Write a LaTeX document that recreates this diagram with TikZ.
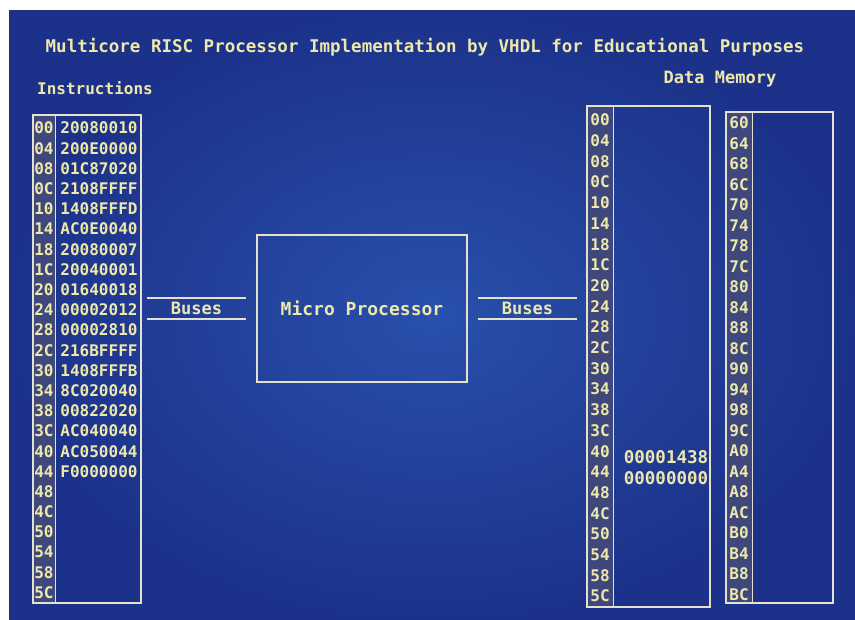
\documentclass[tikz,border=0pt]{standalone}
\usepackage{fontspec}
\setmonofont{DejaVu Sans Mono}
\usetikzlibrary{positioning}
\definecolor{scrbg}{RGB}{40,80,172}
\definecolor{scredge}{RGB}{28,50,138}
\definecolor{crt}{RGB}{238,232,170}
\definecolor{crtline}{RGB}{228,226,206}
\definecolor{addrbg}{RGB}{62,72,124}

\begin{document}
\begin{tikzpicture}[x=1pt,y=-1pt,
  font=\ttfamily\bfseries,
  crt/.style={text=crt,inner sep=0pt},
  fs/.style={font=\ttfamily\bfseries\fontsize{#1}{#1}\selectfont},
  panel/.style={draw=crtline,line width=1.5pt},
  addrcol/.style={draw=crtline,line width=1.2pt,fill=addrbg,anchor=north west},
  addr/.style={crt,fs=16},
  word/.style={crt,fs=16},
  bus/.style={crt,fs=17,minimum width=99pt,minimum height=21pt},
  busline/.style={draw=crtline,line width=1.5pt}
]
\useasboundingbox (0,0) rectangle (855,620);
\fill[white] (0,0) rectangle (855,620);
\shade[inner color=scrbg,outer color=scredge] (9,11) rectangle (855,620);

\node[crt,fs=17.5] (title) at (425,47) {Multicore RISC Processor Implementation by VHDL for Educational Purposes};
\node[crt,fs=16] (instrlbl) at (95,88) {Instructions};
\node[crt,fs=17] (memlbl) at (720,79) {Data Memory};

% instruction memory
\node[addrcol,minimum width=22pt,minimum height=488pt] (instra) at (33,115) {};
\node[panel,minimum width=108pt,minimum height=488pt] (instr) at (87,359) {};
\foreach \a [count=\i from 0] in {00,04,08,0C,10,14,18,1C,20,24,28,2C,30,34,38,3C,40,44,48,4C,50,54,58,5C}{
  \node[addr] (ia\i) at (44,{128+\i*20.2}) {\a};}
\foreach \v [count=\i from 0] in {20080010,200E0000,01C87020,2108FFFF,1408FFFD,AC0E0040,20080007,20040001,01640018,00002012,00002810,216BFFFF,1408FFFB,8C020040,00822020,AC040040,AC050044,F0000000}{
  \node[word] (iv\i) at (99,{128+\i*20.2}) {\v};}

% processor and buses
\node[panel,crt,fs=18,minimum width=210pt,minimum height=147pt] (cpu) at (362,308.5) {Micro Processor};
\node[bus,left=10pt of cpu] (busl) {Buses};
\node[bus,right=10pt of cpu] (busr) {Buses};
\foreach \b in {busl,busr}{
  \draw[busline] (\b.north west) -- (\b.north east);
  \draw[busline] (\b.south west) -- (\b.south east);}

% data memory
\node[addrcol,minimum width=26pt,minimum height=501pt] (mema) at (587,106) {};
\node[panel,minimum width=123pt,minimum height=501pt] (mem) at (648.5,356.5) {};
\foreach \a [count=\i from 0] in {00,04,08,0C,10,14,18,1C,20,24,28,2C,30,34,38,3C,40,44,48,4C,50,54,58,5C}{
  \node[addr] (ma\i) at (600,{120+\i*20.7}) {\a};}
\node[word,fs=17.5] (mv16) at (666,457) {00001438};
\node[word,fs=17.5] (mv17) at (666,478) {00000000};

\node[addrcol,minimum width=26pt,minimum height=491pt] (memb) at (726,112) {};
\node[panel,minimum width=107pt,minimum height=491pt] (memr) at (779.5,357.5) {};
\foreach \a [count=\i from 0] in {60,64,68,6C,70,74,78,7C,80,84,88,8C,90,94,98,9C,A0,A4,A8,AC,B0,B4,B8,BC}{
  \node[addr] (mb\i) at (739,{123+\i*20.5}) {\a};}
\end{tikzpicture}
\end{document}
